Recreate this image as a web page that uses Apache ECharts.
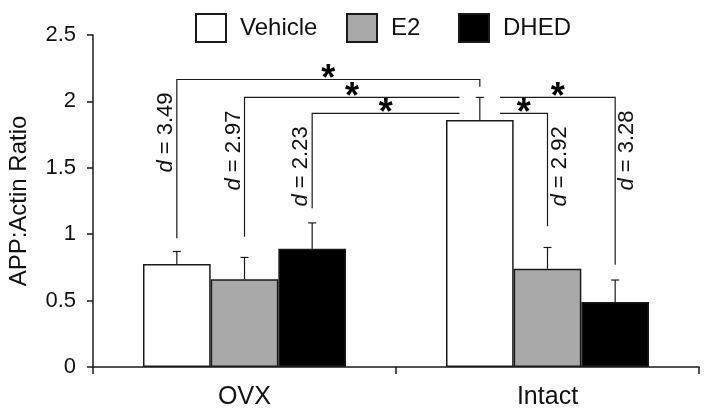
<!DOCTYPE html>
<html><head><meta charset="utf-8">
<script src="https://cdn.jsdelivr.net/npm/echarts@6/dist/echarts.min.js"></script>
<style>html,body{margin:0;padding:0;background:#fff}#c{width:704px;height:414px}</style>
</head><body><div id="c"></div>
<script>
// ---- data ----
const categories = ['OVX', 'Intact'];
const seriesNames = ['Vehicle', 'E2', 'DHED'];
const vehicle = [0.775, 1.86];
const vehicleErr = [0.095, 0.17];
const e2 = [0.66, 0.74];
const e2Err = [0.165, 0.16];
const dhed = [0.89, 0.49];
const dhedErr = [0.195, 0.165];
const yTicks = [0, 0.5, 1, 1.5, 2, 2.5];
// significance brackets: [group, series] of the two compared bars
const bracketStart = [[0, 0], [0, 1], [0, 2], [1, 0], [1, 0]];
const bracketEnd = [[1, 0], [1, 0], [1, 0], [1, 1], [1, 2]];
const bracketHeight = [2.165, 2.03, 1.91, 1.91, 2.03];
const bracketStartFoot = [0.97, 0.98, 1.195, null, null];
const bracketEndFoot = [2.11, null, null, 1.06, 0.77];
const effectSizes = ['3.49', '2.97', '2.23', '2.92', '3.28'];

// ---- styling ----
const FONT = 'Liberation Sans, Arial, Helvetica, sans-serif';
const fills = ['#ffffff', '#a9a9a9', '#000000'];
const legendLeft = [190, 341, 453];
const values = [vehicle, e2, dhed];
const errs = [vehicleErr, e2Err, dhedErr];
const CAT_GAP = 0.33;
const GAP = 0.3;

function barW(api) { return api.size([1, 0])[0] * (1 - CAT_GAP) / 3; }
function barX(api, g, s) { return api.coord([g, 0])[0] + (s - 1) * barW(api); }

const chart = echarts.init(document.getElementById('c'), null, {renderer: 'canvas'});

const barSeries = seriesNames.map((name, s) => ({
  name, type: 'bar', data: values[s],
  barGap: '0%', barCategoryGap: (CAT_GAP * 100) + '%',
  itemStyle: {color: fills[s], borderColor: '#1a1a1a', borderWidth: 1.5},
  emphasis: {disabled: true}, z: 2
}));

const errSeries = seriesNames.map((name, s) => ({
  name: name + ' err', type: 'custom', silent: true, z: 3,
  data: values[s].map((v, g) => [g, v + errs[s][g]]),
  encode: {x: 0, y: 1},
  renderItem(params, api) {
    const g = params.dataIndex;
    const x = barX(api, g, s);
    const yTop = api.coord([g, values[s][g]])[1];
    const yErr = api.coord([g, values[s][g] + errs[s][g]])[1];
    const c = 4;
    const st = {stroke: '#1a1a1a', lineWidth: 1.2};
    return {type: 'group', children: [
      {type: 'line', shape: {x1: x, y1: yTop, x2: x, y2: yErr}, style: st},
      {type: 'line', shape: {x1: x - c, y1: yErr, x2: x + c, y2: yErr}, style: st}
    ]};
  }
}));

const bracketSeries = {
  name: 'brackets', type: 'custom', silent: true, z: 4,
  data: bracketHeight.map((h) => [0, h]),
  encode: {x: 0, y: 1},
  renderItem(params, api) {
    const i = params.dataIndex;
    const w = barW(api);
    let x1 = barX(api, bracketStart[i][0], bracketStart[i][1]);
    let x2 = barX(api, bracketEnd[i][0], bracketEnd[i][1]);
    const yH = api.coord([0, bracketHeight[i]])[1];
    const pts = [];
    const sf = bracketStartFoot[i], ef = bracketEndFoot[i];
    if (sf != null) pts.push([x1, api.coord([0, sf])[1]]); else x1 += GAP * w;
    if (ef == null) x2 -= GAP * w;
    pts.push([x1, yH]); pts.push([x2, yH]);
    if (ef != null) pts.push([x2, api.coord([0, ef])[1]]);
    const leftSide = sf != null && (ef == null || sf < ef);
    const lx = leftSide ? x1 - 11 : x2 + 12;
    return {type: 'group', children: [
      {type: 'polyline', shape: {points: pts}, style: {stroke: '#1a1a1a', lineWidth: 1.2, fill: null}},
      {type: 'text', x: (x1 + x2) / 2, y: yH + 1,
        style: {text: '*', font: 'bold 36px ' + FONT, fill: '#000', align: 'center', verticalAlign: 'middle'}},
      {type: 'text', x: lx, y: yH + 13, rotation: Math.PI / 2,
        style: {text: '{i|d} = ' + effectSizes[i], fontSize: 22, fontFamily: FONT, fill: '#111',
          align: 'right', verticalAlign: 'middle',
          rich: {i: {fontStyle: 'italic', fontSize: 22, fontFamily: FONT, fill: '#111'}}}}
    ]};
  }
};

chart.setOption({
  animation: false,
  backgroundColor: '#fff',
  textStyle: {fontFamily: FONT},
  legend: seriesNames.map((name, s) => ({
    data: [name], left: legendLeft[s], top: 8, itemWidth: 30, itemHeight: 28,
    icon: 'rect',
    textStyle: {fontSize: 24, color: '#111', fontFamily: FONT, padding: [0, 0, 0, 9]},
    selectedMode: false
  })),
  grid: {left: 93, right: 5, top: 35, bottom: 47, containLabel: false, outerBoundsMode: 'none'},
  xAxis: {
    type: 'category', data: categories,
    axisLine: {lineStyle: {color: '#1a1a1a', width: 1.5}},
    axisTick: {show: true, length: 7, lineStyle: {color: '#1a1a1a', width: 1.5}},
    axisLabel: {fontSize: 25, color: '#111', margin: 18, fontFamily: FONT}
  },
  yAxis: {
    type: 'value', min: yTicks[0], max: yTicks[yTicks.length - 1], interval: 0.5,
    name: 'APP:Actin Ratio', nameLocation: 'middle', nameRotate: 90, nameGap: 62,
    nameTextStyle: {fontSize: 24, color: '#111', fontFamily: FONT},
    axisLine: {show: true, lineStyle: {color: '#1a1a1a', width: 1.5}},
    axisTick: {show: true, length: 6, lineStyle: {color: '#1a1a1a', width: 1.5}},
    splitLine: {show: false},
    axisLabel: {fontSize: 22, color: '#111', margin: 17, fontFamily: FONT,
      formatter: (v) => String(v)}
  },
  series: [...barSeries, ...errSeries, bracketSeries]
});
</script></body></html>
